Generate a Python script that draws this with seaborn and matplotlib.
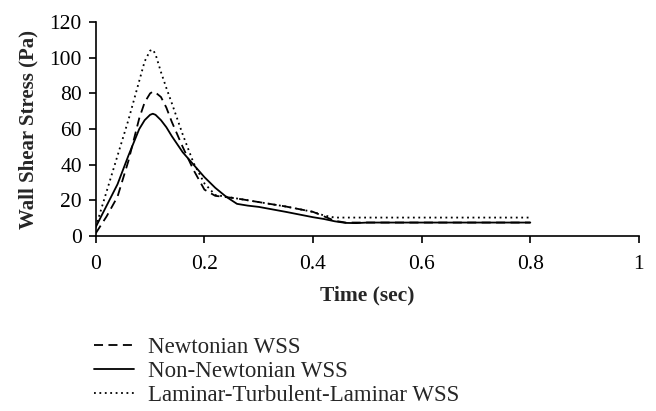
import pandas as pd
import seaborn as sns
from matplotlib import pyplot as plt

# time axis (sec)
time_s = [0, 0.02, 0.04, 0.06, 0.08, 0.09, 0.1, 0.105, 0.11, 0.12, 0.13, 0.14,
          0.16, 0.18, 0.2, 0.22, 0.24, 0.26, 0.28, 0.3, 0.35, 0.4, 0.42, 0.44,
          0.46, 0.48, 0.5, 0.6, 0.7, 0.8]

newtonian = [1.5, 11, 22, 42, 66, 75, 80, 81, 80.5, 78, 72, 64,
             50, 37, 26, 22.5, 21.8, 21, 20, 19, 16.5, 13.5, 11, 8.5,
             7.5, 7.5, 7.5, 7.5, 7.5, 7.5]
non_newtonian = [5, 17, 29, 45, 60, 65, 68, 68.6, 68, 65, 61, 56,
                 47, 40, 33, 27, 22, 18, 17, 16.3, 13.5, 10.5, 9.5, 8.2,
                 7.3, 7.2, 7.5, 7.5, 7.5, 7.5]
ltl = [5, 25, 45, 65, 87, 98, 104, 104.6, 102, 92, 83, 74.5,
       57, 41, 29.5, 23, 22, 21, 20, 19, 16.5, 13.5, 11.5, 10.3,
       10.3, 10.3, 10.3, 10.3, 10.3, 10.3]

series_names = ["Newtonian WSS", "Non-Newtonian WSS", "Laminar-Turbulent-Laminar WSS"]
x_ticks = [0, 0.2, 0.4, 0.6, 0.8, 1]
x_tick_labels = ["0", "0.2", "0.4", "0.6", "0.8", "1"]
y_ticks = [0, 20, 40, 60, 80, 100, 120]

STYLES = {
    "Newtonian WSS": (0, (5, 3)),
    "Non-Newtonian WSS": "-",
    "Laminar-Turbulent-Laminar WSS": (0, (1, 2)),
}

sns.set_style("ticks")
plt.rcParams["font.family"] = ["Liberation Serif", "DejaVu Serif"]

df = pd.DataFrame({
    "time": time_s * 3,
    "wss": newtonian + non_newtonian + ltl,
    "series": sum([[name] * len(time_s) for name in series_names], []),
})

fig = plt.figure(figsize=(6.56, 4.11), dpi=100)
ax = fig.add_axes([0.146, 0.426, 0.828, 0.52])

for name in series_names:
    sub = df[df["series"] == name]
    sns.lineplot(data=sub, x="time", y="wss", ax=ax, color="black",
                 linewidth=1.3, linestyle=STYLES[name], label=name, legend=False)

ax.set_xlim(0, 1)
ax.set_ylim(0, 120)
ax.set_xticks(x_ticks)
ax.set_xticklabels(x_tick_labels)
ax.set_yticks(y_ticks)
ax.tick_params(axis="both", length=5, width=1.2, labelsize=15.5, colors="black")
ax.tick_params(axis="x", pad=9)
ax.tick_params(axis="y", pad=5)
for side in ("top", "right"):
    ax.spines[side].set_visible(False)
for side in ("left", "bottom"):
    ax.spines[side].set_linewidth(1.2)
    ax.spines[side].set_color("black")
ax.set_xlabel("Time (sec)", fontsize=15.5, fontweight="bold", labelpad=8)
ax.set_ylabel("Wall Shear Stress (Pa)", fontsize=15, fontweight="bold", labelpad=8)

handles, labels = ax.get_legend_handles_labels()
fig.legend(handles, labels, loc="upper left", bbox_to_anchor=(0.129, 0.202),
           frameon=False, fontsize=16.5, handlelength=1.75, handletextpad=0.6,
           labelspacing=0.12, borderaxespad=0)

fig.savefig("out.png", dpi=100)
